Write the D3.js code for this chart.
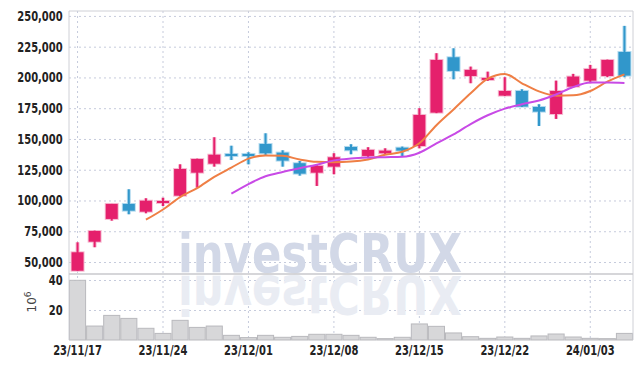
<!DOCTYPE html>
<meta charset="utf-8">
<head>
  <title>Candlestick with volume</title>
</head>

<style>
body { margin: 0; background: #fff; }
text {
  font-family: "Liberation Sans Narrow", "DejaVu Sans Condensed", sans-serif;
  font-weight: bold;
  fill: #222;
  font-size: 15px;
}
text.wm {
  font-family: "DejaVu Sans", sans-serif;
  font-weight: bold;
  font-size: 54px;
}
.grid line { stroke: #c6cbdc; stroke-dasharray: 2,3; }
.grid path { display: none; }
.axis path, .axis line { display: none; }
</style>

<body>
  <svg width="643" height="368"></svg>

  <script src="https://d3js.org/d3.v7.min.js"></script>
  <script>
// trading days
var dates = ["23/11/17","23/11/20","23/11/21","23/11/22","23/11/23","23/11/24",
  "23/11/27","23/11/28","23/11/29","23/11/30","23/12/01",
  "23/12/04","23/12/05","23/12/06","23/12/07","23/12/08",
  "23/12/11","23/12/12","23/12/13","23/12/14","23/12/15",
  "23/12/18","23/12/19","23/12/20","23/12/21","23/12/22",
  "23/12/26","23/12/27","23/12/28","24/01/02","24/01/03","24/01/04","24/01/05"];

var opens  = [42900,66500,85000,97200,90900,99300,103900,122600,129900,137800,137800,
  145900,138900,130300,122600,127500,143500,136200,138400,142900,144300,
  171400,216400,201200,198000,185200,189000,176000,170300,192500,197400,201200,220700];
var highs  = [66000,75500,97200,109100,101800,102300,129400,134000,151400,144500,139200,
  154600,140800,132100,129400,138400,145700,143300,142400,143800,175000,
  219700,223700,208800,204700,200200,190400,178200,197400,202900,210200,214500,241900];
var lows   = [42900,62000,83600,88800,89600,95500,103500,110400,127500,132900,129400,
  137000,127500,120200,111800,121300,137600,134300,137600,135600,142400,
  171000,198500,195300,197200,185000,176000,160600,166300,192000,195300,200200,200200];
var closes = [57900,75200,97200,91700,99800,99600,125600,133700,137200,137400,136400,
  138400,132400,121800,128100,135100,140800,141100,140500,140500,169500,
  214200,205300,206100,199600,189000,176300,172200,189000,200700,206900,214200,201500];
// volume, millions of shares
var volumes = [39.8,9.3,16.4,14.4,7.8,4.4,13.1,8.4,9.3,3.1,1.6,
  3.1,1.8,2.4,3.8,3.8,3.1,1.8,0.9,1.8,10.7,
  9.1,4.7,2.2,1.1,2.0,1.1,2.7,4.0,2.0,1.1,0.9,4.4];

var priceTicks = [50000,75000,100000,125000,150000,175000,200000,225000,250000];
var volumeTicks = [20,40];
var dateTicks = ["23/11/17","23/11/24","23/12/01","23/12/08","23/12/15","23/12/22","24/01/03"];

var pLeft = 69, pRight = 633, pTop = 11, pMid = 274, pBottom = 340;

var svg = d3.select('svg');

var x = d3.scaleBand().domain(dates).range([pLeft, pRight]).padding(0);
var y = d3.scaleLinear().domain([40250, 254000]).range([pMid, pTop]);
var yv = d3.scaleLinear().domain([0, 44]).range([pBottom, pMid]);
var cx = function(d) { return x(d) + x.bandwidth() / 2; };

// grid
svg.append('g').attr('class', 'grid')
  .attr('transform', 'translate(' + pLeft + ',0)')
  .call(d3.axisLeft(y).tickValues(priceTicks).tickSize(-(pRight - pLeft)).tickFormat(''));
svg.append('g').attr('class', 'grid')
  .attr('transform', 'translate(' + pLeft + ',0)')
  .call(d3.axisLeft(yv).tickValues(volumeTicks).tickSize(-(pRight - pLeft)).tickFormat(''));
svg.append('g').attr('class', 'grid')
  .selectAll('line').data(dateTicks).enter().append('line')
  .attr('x1', cx).attr('x2', cx).attr('y1', pTop).attr('y2', pBottom);

// watermark + reflection
var wm = svg.append('g');
wm.append('text').attr('class', 'wm')
  .attr('x', 178).attr('y', 272)
  .attr('textLength', 284).attr('lengthAdjust', 'spacingAndGlyphs')
  .style('fill', '#d2d8e7')
  .text('investCRUX');
wm.append('text').attr('class', 'wm')
  .attr('transform', 'translate(0,548) scale(1,-1)')
  .attr('x', 178).attr('y', 272)
  .attr('textLength', 284).attr('lengthAdjust', 'spacingAndGlyphs')
  .style('fill', '#e9ecf3')
  .text('investCRUX');

// volume bars
svg.append('g').selectAll('rect')
  .data(dates).enter().append('rect')
  .attr('x', function(d) { return x(d) + 0.5; })
  .attr('width', x.bandwidth() - 1)
  .attr('y', function(d, i) { return yv(volumes[i]); })
  .attr('height', function(d, i) { return pBottom - yv(volumes[i]); })
  .attr('fill', '#d7d7d9')
  .attr('stroke', '#b9b9bd');

// candles (red = up, blue = down)
var candles = svg.append('g').selectAll('g')
  .data(dates).enter().append('g');
var colorOf = function(i) { return closes[i] >= opens[i] ? '#e5206c' : '#3197cb'; };
var haloOf = function(i) { return closes[i] >= opens[i] ? '#f6bcd2' : '#b5dbef'; };
var bodyW = 12;

candles.append('line')
  .attr('x1', cx).attr('x2', cx)
  .attr('y1', function(d, i) { return y(highs[i]); })
  .attr('y2', function(d, i) { return y(lows[i]); })
  .attr('stroke', function(d, i) { return haloOf(i); })
  .attr('stroke-width', 4);
candles.append('rect')
  .attr('x', function(d) { return cx(d) - bodyW / 2 - 1; })
  .attr('width', bodyW + 2)
  .attr('y', function(d, i) { return y(Math.max(opens[i], closes[i])) - 1; })
  .attr('height', function(d, i) { return Math.max(2, Math.abs(y(opens[i]) - y(closes[i]))) + 2; })
  .attr('fill', function(d, i) { return haloOf(i); });
candles.append('line')
  .attr('x1', cx).attr('x2', cx)
  .attr('y1', function(d, i) { return y(highs[i]); })
  .attr('y2', function(d, i) { return y(lows[i]); })
  .attr('stroke', function(d, i) { return colorOf(i); })
  .attr('stroke-width', 2);
candles.append('rect')
  .attr('x', function(d) { return cx(d) - bodyW / 2; })
  .attr('width', bodyW)
  .attr('y', function(d, i) { return y(Math.max(opens[i], closes[i])); })
  .attr('height', function(d, i) { return Math.max(2, Math.abs(y(opens[i]) - y(closes[i]))); })
  .attr('fill', function(d, i) { return colorOf(i); });

// moving averages of close
function movingAvg(n) {
  return closes.map(function(c, i) {
    if (i < n - 1) return null;
    return d3.mean(closes.slice(i - n + 1, i + 1));
  });
}
var line = d3.line()
  .defined(function(d) { return d[1] !== null; })
  .x(function(d) { return cx(d[0]); })
  .y(function(d) { return y(d[1]); })
  .curve(d3.curveMonotoneX);
[[5, '#ef7f45'], [10, '#c84ae6']].forEach(function(m) {
  var ma = movingAvg(m[0]);
  svg.append('path')
    .datum(dates.map(function(d, i) { return [d, ma[i]]; }))
    .attr('d', line)
    .attr('fill', 'none')
    .attr('stroke', m[1])
    .attr('stroke-width', 2);
});

// frame
svg.append('path')
  .attr('d', 'M' + pLeft + ',' + pBottom + 'V' + pTop + 'H' + pRight + 'V' + pBottom)
  .attr('fill', 'none').attr('stroke', '#cfd0d6');
svg.append('line')
  .attr('x1', pLeft).attr('x2', pRight).attr('y1', pMid).attr('y2', pMid)
  .attr('stroke', '#c9c9cc').attr('stroke-width', 1.5);

// axes
svg.append('g').attr('class', 'axis')
  .attr('transform', 'translate(' + (pLeft - 4) + ',0)')
  .call(d3.axisLeft(y).tickValues(priceTicks).tickSize(0).tickFormat(d3.format(',')));
svg.append('g').attr('class', 'axis')
  .attr('transform', 'translate(' + (pLeft - 4) + ',0)')
  .call(d3.axisLeft(yv).tickValues(volumeTicks).tickSize(0));
svg.append('g').attr('class', 'axis')
  .attr('transform', 'translate(0,' + (pBottom + 2) + ')')
  .call(d3.axisBottom(x).tickValues(dateTicks).tickSize(0));
svg.selectAll('.axis text')
  .style('font-size', '14px').style('fill', '#222')
  .attr('transform', 'scale(0.79,1)');

var unit = svg.append('text')
  .attr('transform', 'translate(36,302) rotate(-90)')
  .attr('text-anchor', 'middle')
  .style('font-family', '"DejaVu Sans", sans-serif')
  .style('font-weight', 'normal').style('font-size', '12px').style('fill', '#444');
unit.append('tspan').text('10');
unit.append('tspan').attr('dy', -5).style('font-size', '9px').text('6');
  </script>
</body>
</html>
